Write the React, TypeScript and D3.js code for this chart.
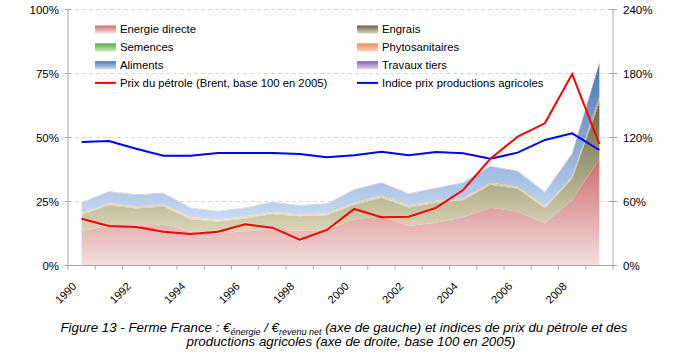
import React from 'react';
import * as d3 from 'd3';

const years = [1990, 1991, 1992, 1993, 1994, 1995, 1996, 1997, 1998, 1999, 2000, 2001, 2002, 2003, 2004, 2005, 2006, 2007, 2008, 2009];
const energieDirecte = [13.5, 15.5, 15.2, 16.1, 13.2, 12.6, 13.4, 14.1, 13.6, 13.9, 18.0, 19.3, 15.4, 16.7, 18.8, 22.6, 21.0, 16.5, 25.6, 41.5];
const engrais = [6.3, 8.0, 7.1, 6.9, 4.9, 4.6, 5.0, 6.0, 5.6, 5.7, 5.7, 7.2, 7.3, 7.8, 6.7, 8.9, 9.0, 5.9, 8.3, 22.0];
const semences = [0.3, 0.3, 0.3, 0.3, 0.3, 0.3, 0.3, 0.3, 0.3, 0.3, 0.3, 0.3, 0.3, 0.3, 0.3, 0.3, 0.3, 0.3, 0.3, 1.0];
const phytosanitaires = [0.5, 0.5, 0.5, 0.5, 0.5, 0.5, 0.5, 0.5, 0.5, 0.5, 0.5, 0.5, 0.5, 0.5, 0.5, 0.5, 0.5, 0.5, 0.5, 1.5];
const aliments = [3.9, 4.4, 4.4, 4.3, 3.5, 3.1, 3.2, 3.7, 3.3, 3.6, 5.0, 4.9, 4.4, 4.8, 5.9, 6.3, 5.9, 5.3, 8.8, 12.7];
const travauxTiers = [0.3, 0.3, 0.3, 0.3, 0.3, 0.3, 0.3, 0.3, 0.3, 0.3, 0.3, 0.3, 0.3, 0.3, 0.3, 0.3, 0.3, 0.3, 0.3, 0.5];
const prixPetrole = [43.9, 37.0, 36.1, 31.7, 29.5, 31.7, 38.6, 35.5, 24.2, 33.3, 53.0, 45.2, 45.8, 54.0, 70.8, 100.0, 120.8, 133.3, 179.5, 113.9];
const indicePrixAgricoles = [115.8, 116.7, 109.5, 103.0, 103.0, 105.5, 105.5, 105.5, 104.5, 101.4, 103.3, 106.7, 103.3, 106.4, 105.2, 100.0, 105.8, 117.7, 123.9, 108.3];
const leftTicks = [0, 25, 50, 75, 100];
const rightTicks = [0, 60, 120, 180, 240];
const xTickLabels = ['1990', '1992', '1994', '1996', '1998', '2000', '2002', '2004', '2006', '2008'];

const layerNames = ['Energie directe', 'Engrais', 'Semences', 'Phytosanitaires', 'Aliments', 'Travaux tiers'];
const layerValues = [energieDirecte, engrais, semences, phytosanitaires, aliments, travauxTiers];
const layerGrad: [string, string][] = [
  ['#cd6e6c', '#f4dede'],
  ['#6a6442', '#dcd7b8'],
  ['#5fa84a', '#c8e6b0'],
  ['#f08a5a', '#fbd3bb'],
  ['#4778b8', '#c9dbf2'],
  ['#7e64a8', '#ddd5ec'],
];

const L = 68, R = 613, T = 9.5, B = 265.5;
const FONT = '"Liberation Sans", Arial, sans-serif';

export default function App() {
  const x = d3.scaleBand<number>().domain(years).range([L, R]).paddingInner(0).paddingOuter(0);
  const cx = (yr: number) => (x(yr) as number) + x.bandwidth() / 2;
  const yL = d3.scaleLinear().domain([0, 100]).range([B, T]);
  const yR = d3.scaleLinear().domain([0, 240]).range([B, T]);

  const table = years.map((yr, i) => {
    const o: any = { year: yr };
    layerNames.forEach((n, k) => (o[n] = layerValues[k][i]));
    return o;
  });
  const stack = d3.stack<any>().keys(layerNames)(table);
  const area = d3.area<any>().x((d) => cx(d.data.year)).y0((d) => yL(d[0])).y1((d) => yL(d[1]));
  const lineR = d3.line<number>().x((_, i) => cx(years[i])).y((v) => yR(v));

  const legendRows = [
    { name: 'Energie directe', type: 'area', k: 0, col: 0, row: 0 },
    { name: 'Engrais', type: 'area', k: 1, col: 1, row: 0 },
    { name: 'Semences', type: 'area', k: 2, col: 0, row: 1 },
    { name: 'Phytosanitaires', type: 'area', k: 3, col: 1, row: 1 },
    { name: 'Aliments', type: 'area', k: 4, col: 0, row: 2 },
    { name: 'Travaux tiers', type: 'area', k: 5, col: 1, row: 2 },
    { name: 'Prix du pétrole (Brent, base 100 en 2005)', type: 'line', color: '#ff0000', col: 0, row: 3 },
    { name: 'Indice prix productions agricoles', type: 'line', color: '#0000ff', col: 1, row: 3 },
  ];
  const legX = [95, 357];
  const legY0 = 29.5, legDy = 17.8;

  return (
    <svg width={697} height={361} style={{ position: 'absolute', left: 0, top: 0, background: '#fff' }} fontFamily={FONT}>
      <defs>
        {layerGrad.map((g, k) => (
          <linearGradient key={k} id={`g${k}`} x1="0" y1="0" x2="0" y2="1">
            <stop offset="0" stopColor={g[0]} />
            <stop offset="1" stopColor={g[1]} />
          </linearGradient>
        ))}
      </defs>
      {leftTicks.filter((t) => t > 0).map((t) => (
        <line key={t} x1={L} x2={R} y1={yL(t)} y2={yL(t)} stroke="#d9d9d9" strokeWidth={1} strokeDasharray="4,3" />
      ))}
      {stack.map((s, k) => (
        <path key={k} d={area(s) as string} fill={`url(#g${k})`} />
      ))}
      <path d={lineR(indicePrixAgricoles) as string} fill="none" stroke="#0000ff" strokeWidth={2} />
      <path d={lineR(prixPetrole) as string} fill="none" stroke="#ff0000" strokeWidth={2} />
      <line x1={L} x2={L} y1={T} y2={B} stroke="#a6a6a6" />
      <line x1={R} x2={R} y1={T} y2={B} stroke="#a6a6a6" />
      <line x1={L} x2={R} y1={B} y2={B} stroke="#a6a6a6" />
      {leftTicks.map((t) => (
        <g key={t}>
          <line x1={L - 3} x2={L + 3} y1={yL(t)} y2={yL(t)} stroke="#a6a6a6" />
          <text x={59} y={yL(t)} dy="0.35em" textAnchor="end" fontSize={11.5} fill="#000">{`${t}%`}</text>
        </g>
      ))}
      {rightTicks.map((t) => (
        <g key={t}>
          <line x1={R - 4} x2={R + 4} y1={yR(t)} y2={yR(t)} stroke="#a6a6a6" />
          <text x={623} y={yR(t)} dy="0.35em" textAnchor="start" fontSize={11.5} fill="#000">{`${t}%`}</text>
        </g>
      ))}
      {years.concat([years[years.length - 1] + 1]).map((yr, i) => {
        const xx = L + i * x.bandwidth();
        return <line key={yr} x1={xx} x2={xx} y1={B} y2={B + 4} stroke="#a6a6a6" />;
      })}
      {xTickLabels.map((lab) => {
        const px = cx(+lab) - 4.5;
        const py = 287;
        return (
          <text key={lab} x={px} y={py} transform={`rotate(-45 ${px} ${py})`} textAnchor="end" fontSize={11} fill="#000">{lab}</text>
        );
      })}
      {legendRows.map((r) => {
        const lx = legX[r.col];
        const ly = legY0 + r.row * legDy;
        return (
          <g key={r.name}>
            {r.type === 'area' ? (
              <rect x={lx} y={ly - 4} width={21} height={8} fill={`url(#g${r.k})`} />
            ) : (
              <line x1={lx} x2={lx + 21} y1={ly} y2={ly} stroke={r.color} strokeWidth={2} />
            )}
            <text x={lx + 25} y={ly} dy="0.35em" fontSize={11.3} fill="#000">{r.name}</text>
          </g>
        );
      })}
      <text x={344} y={332} textAnchor="middle" fontSize={13.3} fontStyle="italic" fill="#000" fontFamily="Arial, 'Liberation Sans', sans-serif">
        Figure 13 - Ferme France : €<tspan fontSize={9} dy={2.5}>énergie</tspan><tspan dy={-2.5}> / €</tspan><tspan fontSize={9} dy={2.5}>revenu net</tspan><tspan dy={-2.5}> (axe de gauche) et indices de prix du pétrole et des</tspan>
      </text>
      <text x={351} y={346} textAnchor="middle" fontSize={13.3} fontStyle="italic" fill="#000" fontFamily="Arial, 'Liberation Sans', sans-serif">
        productions agricoles (axe de droite, base 100 en 2005)
      </text>
    </svg>
  );
}
